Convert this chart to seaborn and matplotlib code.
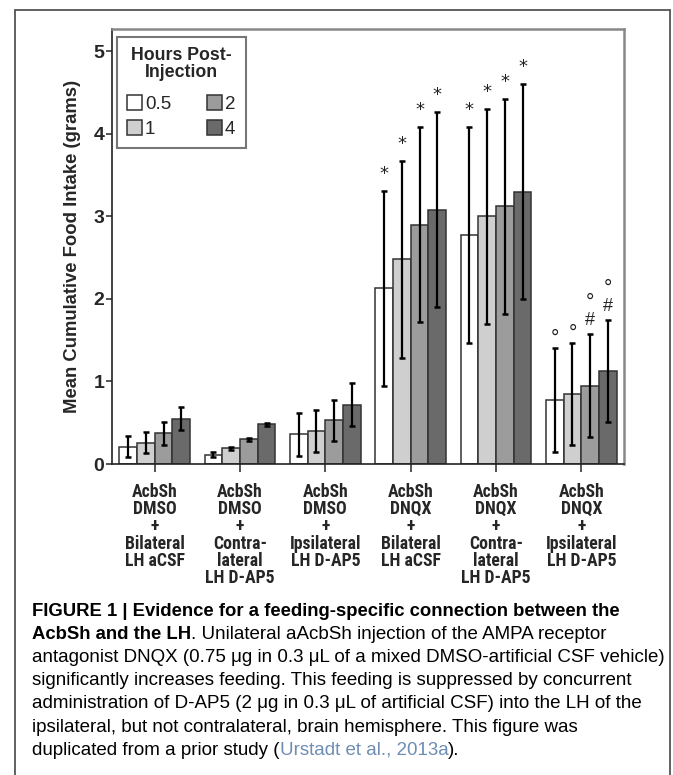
import numpy as np
import pandas as pd
import matplotlib
matplotlib.use("Agg")
import matplotlib.pyplot as plt
import seaborn as sns
from matplotlib import font_manager
from matplotlib.lines import Line2D

# groups on the x axis
groups = [
    "AcbSh\nDMSO\n+\nBilateral\nLH aCSF",
    "AcbSh\nDMSO\n+\nContra-\nlateral\nLH D-AP5",
    "AcbSh\nDMSO\n+\nIpsilateral\nLH D-AP5",
    "AcbSh\nDNQX\n+\nBilateral\nLH aCSF",
    "AcbSh\nDNQX\n+\nContra-\nlateral\nLH D-AP5",
    "AcbSh\nDNQX\n+\nIpsilateral\nLH D-AP5",
]
hours = ["0.5", "1", "2", "4"]

# mean cumulative intake (grams) per hour
mean_05 = [0.21, 0.11, 0.36, 2.13, 2.77, 0.78]
mean_1 = [0.26, 0.19, 0.40, 2.48, 3.00, 0.85]
mean_2 = [0.37, 0.30, 0.53, 2.90, 3.12, 0.95]
mean_4 = [0.55, 0.48, 0.72, 3.08, 3.30, 1.13]

# error bar half lengths
err_05 = [0.13, 0.03, 0.26, 1.18, 1.31, 0.63]
err_1 = [0.13, 0.02, 0.26, 1.19, 1.30, 0.62]
err_2 = [0.14, 0.02, 0.25, 1.18, 1.30, 0.62]
err_4 = [0.14, 0.02, 0.26, 1.18, 1.30, 0.62]

# significance symbols, stacked bottom to top
marks_05 = ["", "", "", "*", "*", "°"]
marks_1 = ["", "", "", "*", "*", "°"]
marks_2 = ["", "", "", "*", "*", "#°"]
marks_4 = ["", "", "", "*", "*", "#°"]

caption = [
    [("FIGURE 1 | Evidence for a feeding-specific connection between the", "bold", "black")],
    [("AcbSh and the LH", "bold", "black"),
     (". Unilateral aAcbSh injection of the AMPA receptor", "normal", "black")],
    [("antagonist DNQX (0.75 \u03bcg in 0.3 \u03bcL of a mixed DMSO-artificial CSF vehicle)", "normal", "black")],
    [("significantly increases feeding. This feeding is suppressed by concurrent", "normal", "black")],
    [("administration of D-AP5 (2 \u03bcg in 0.3 \u03bcL of artificial CSF) into the LH of the", "normal", "black")],
    [("ipsilateral, but not contralateral, brain hemisphere. This figure was", "normal", "black")],
    [("duplicated from a prior study (", "normal", "black"),
     ("Urstadt et al., 2013a", "normal", "#6f8db3"),
     (").", "normal", "black")],
]

means = [mean_05, mean_1, mean_2, mean_4]
errs = [err_05, err_1, err_2, err_4]
marks = [marks_05, marks_1, marks_2, marks_4]

df = pd.DataFrame({
    "group": groups * len(hours),
    "hour": np.repeat(hours, len(groups)),
    "intake": np.concatenate(means),
})

sns.set_style("ticks")
installed = {f.name for f in font_manager.fontManager.ttflist}
narrow = "Liberation Sans"
for cand in ["Liberation Sans Narrow", "Roboto Condensed", "DejaVu Sans Condensed"]:
    if cand in installed:
        narrow = cand
        break
plt.rcParams["font.family"] = ["Liberation Sans", "DejaVu Sans"]

fig = plt.figure(figsize=(6.73, 7.75), dpi=100)
ax = fig.add_axes([112 / 673, 1 - 464 / 775, 512 / 673, 435 / 775])

palette = {"0.5": "#ffffff", "1": "#cfcfcf", "2": "#9c9c9c", "4": "#6a6a6a"}
sns.barplot(data=df, x="group", y="intake", hue="hour", palette=palette,
            width=0.83, edgecolor="#333333", linewidth=1.1, errorbar=None,
            saturation=1, ax=ax)

for cont, m, e, mk in zip(ax.containers, means, errs, marks):
    xs = [b.get_x() + b.get_width() / 2 for b in cont]
    ax.errorbar(xs, m, yerr=e, fmt="none", ecolor="black", elinewidth=1.6,
                capsize=2.5, capthick=1.8)
    for x, v, ev, s in zip(xs, m, e, mk):
        y = v + ev + 0.12
        for ch in s:
            if ch == "*":
                ax.text(x, y - 0.02, ch, ha="center", va="bottom", fontsize=13,
                        family="DejaVu Sans", color="#222222")
            elif ch == "#":
                ax.text(x, y - 0.06, ch, ha="center", va="bottom", fontsize=13,
                        color="#222222")
            else:
                ax.text(x, y - 0.12, ch, ha="center", va="bottom", fontsize=15,
                        color="#222222")
            y += 0.27

ax.set_ylim(0, 5.27)
ax.set_xlim(-0.5, 5.5)
ax.set_yticks([0, 1, 2, 3, 4, 5])
ax.set_yticklabels(["0", "1", "2", "3", "4", "5"], fontsize=14, fontweight="bold")
ax.set_xticks(range(len(groups)))
ax.set_xticklabels(groups, fontsize=12.8, fontweight="bold", family=narrow,
                   linespacing=0.95)
ax.tick_params(axis="y", direction="out", length=4.5, width=1.1, pad=1)
ax.tick_params(axis="x", direction="out", length=5.5, width=1.1, pad=8)
ax.set_xlabel("")
ax.set_ylabel("Mean Cumulative Food Intake (grams)", fontsize=13.3,
              fontweight="bold", labelpad=9)

for side in ["left", "bottom"]:
    ax.spines[side].set_color("#222222")
    ax.spines[side].set_linewidth(1.2)
for side in ["top", "right"]:
    ax.spines[side].set_color("#888888")
    ax.spines[side].set_linewidth(1.8)

handles, labels = ax.get_legend_handles_labels()
leg = ax.legend(handles, labels, title="Hours Post-\nInjection", ncol=2,
                loc="upper left", bbox_to_anchor=(5 / 512, 1 - 8 / 435),
                borderaxespad=0, frameon=True, fancybox=False,
                edgecolor="#555555", fontsize=13.5,
                handlelength=0.8, handleheight=0.8, handletextpad=0.15,
                columnspacing=1.9, labelspacing=0.4, borderpad=0.55,
                title_fontproperties={"weight": "bold", "size": 12.8})
leg.get_frame().set_linewidth(1.5)
leg.get_title().set_multialignment("center")
leg.get_title().set_linespacing(1.0)
leg._legend_box.sep = 10

# outer frame of the figure panel
for xs_, ys_ in [([15, 15], [775, 10]), ([15, 670], [10, 10]), ([670, 670], [10, 775])]:
    fig.add_artist(Line2D(np.array(xs_) / 673, 1 - np.array(ys_) / 775,
                          color="#555555", linewidth=1.3))

# caption: fit font sizes to the measured line widths
renderer = fig.canvas.get_renderer()
cap_font = "Liberation Sans"


def text_width(s, size, weight):
    t = fig.text(0, 0, s, fontsize=size, fontweight=weight, family=cap_font)
    w = t.get_window_extent(renderer).width
    t.remove()
    return w


size_norm = 12 * 635 / text_width(caption[2][0][0], 12, "normal")
size_bold = 12 * 585 / text_width(caption[0][0][0], 12, "bold")

for i, line in enumerate(caption):
    x = 32
    for txt, weight, col in line:
        size = size_bold if weight == "bold" else size_norm
        t = fig.text(x / 673, 1 - (615.7 + i * 23.2) / 775, txt, fontsize=size,
                     fontweight=weight, color=col, family=cap_font,
                     va="baseline", ha="left")
        x = t.get_window_extent(renderer).x1

fig.savefig("out.png", dpi=100)
